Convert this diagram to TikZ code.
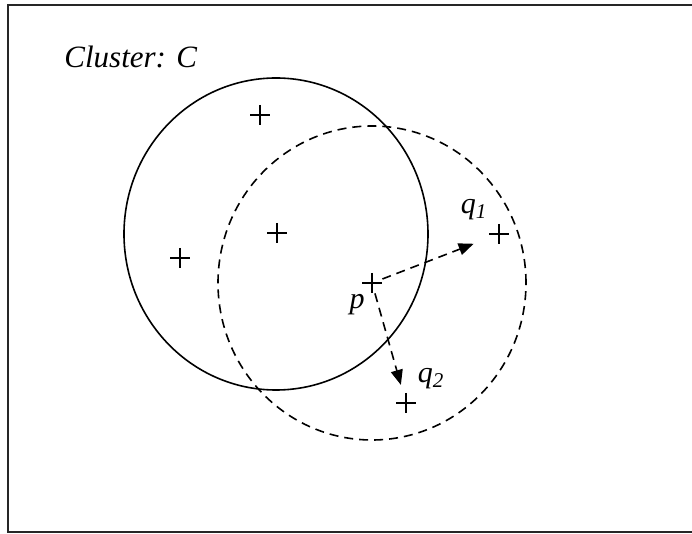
\documentclass[tikz,border=0pt]{standalone}
\usepackage{fontspec}
\setmainfont{Liberation Serif}
\usetikzlibrary{arrows.meta}
\tikzset{
  frame/.style={line width=1.1pt, draw=black!85},
  clusterc/.style={line width=0.8pt},
  reach/.style={line width=0.8pt, dash pattern=on 4.5pt off 3pt},
  ptmark/.style={inner sep=0pt, minimum size=10pt, path picture={
      \draw[line width=0.7pt] (path picture bounding box.north) -- (path picture bounding box.south);
      \draw[line width=0.7pt] (path picture bounding box.west) -- (path picture bounding box.east);}},
  lbl/.style={font=\fontsize{15}{17}\selectfont\itshape, inner sep=0pt},
  hop/.style={-{Triangle[length=7.5pt,width=6pt]}, line width=0.8pt, dash pattern=on 4.5pt off 3pt},
}
\begin{document}
\begin{tikzpicture}[x=0.5pt,y=-0.5pt]
  \useasboundingbox (0,0) rectangle (692,534);
  \draw[frame] (692,5) -- (8,5) -- (8,532) -- (692,532);
  \node[lbl, anchor=base west, font=\fontsize{15.5}{18}\selectfont\itshape] (title) at (64,68) {Cluster: C};
  % the cluster and the neighbourhood of p
  \draw[clusterc] (276,234) ellipse [x radius=76pt, y radius=78pt];
  \draw[reach] (372,283) ellipse [x radius=77pt, y radius=78.5pt];
  \node[ptmark] (ca) at (260,115) {};
  \node[ptmark] (cb) at (277,233) {};
  \node[ptmark] (cc) at (180,258) {};
  \node[ptmark] (p) at (372,283) {};
  \node[ptmark] (qa) at (499,234) {};
  \node[ptmark] (qb) at (406,403) {};
  \node[lbl] (plbl) at (357,305) {p};
  \node[lbl] (qalbl) at (474,210) {q\textsubscript{1}};
  \node[lbl] (qblbl) at (431,379) {q\textsubscript{2}};
  \draw[hop, shorten >=8pt] (p) -- (qa);
  \draw[hop, shorten >=4pt] (p) -- (qb);
\end{tikzpicture}
\end{document}
